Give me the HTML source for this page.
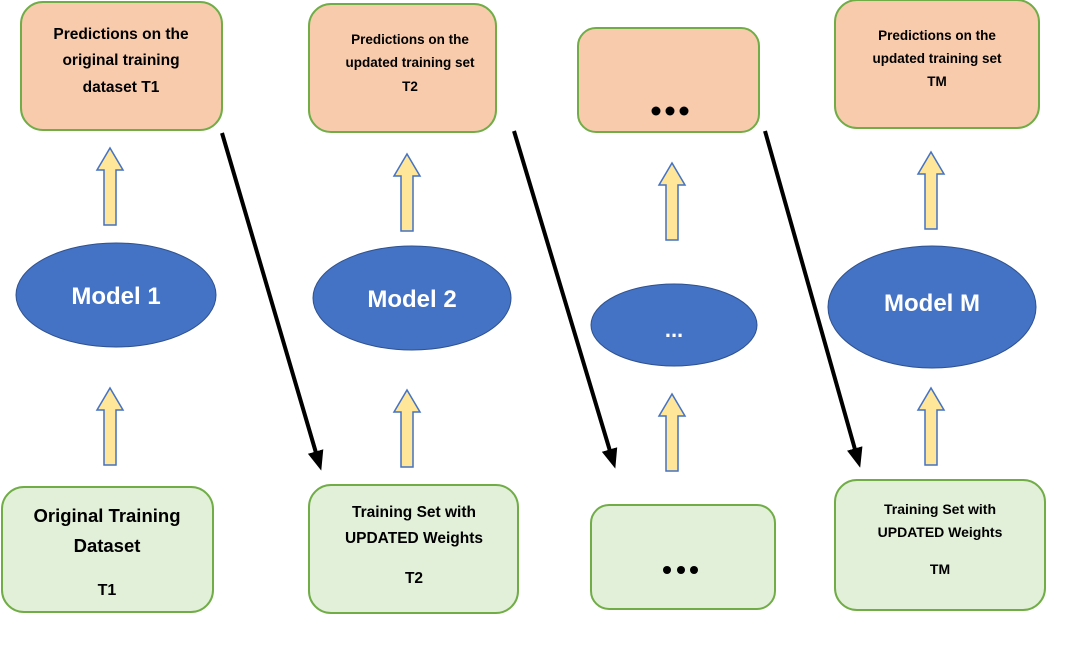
<!DOCTYPE html>
<html><head><style>
body{margin:0;background:#fff;}
</style></head><body>
<svg width="1069" height="662" xmlns="http://www.w3.org/2000/svg" font-family="Liberation Sans, sans-serif" font-weight="bold">
<defs>
<marker id="ah" markerWidth="5" markerHeight="4" refX="3" refY="2" orient="auto" markerUnits="strokeWidth">
<path d="M0,0 L5,2 L0,4 z" fill="#000"/></marker>
<g id="ua"><path d="M-6,77 L-6,22 L-13,22 L0,0 L13,22 L6,22 L6,77 Z" fill="#ffe699" stroke="#4472c4" stroke-width="1.5"/></g>
</defs>
<g stroke="#70ad47" stroke-width="2">
<rect x="21" y="2" width="201" height="128" rx="22" fill="#f8cbad"/>
<rect x="309" y="4" width="187" height="128" rx="22" fill="#f8cbad"/>
<rect x="578" y="28" width="181" height="104" rx="18" fill="#f8cbad"/>
<rect x="835" y="0" width="204" height="128" rx="22" fill="#f8cbad"/>
<rect x="2" y="487" width="211" height="125" rx="22" fill="#e2efd9"/>
<rect x="309" y="485" width="209" height="128" rx="22" fill="#e2efd9"/>
<rect x="591" y="505" width="184" height="104" rx="18" fill="#e2efd9"/>
<rect x="835" y="480" width="210" height="130" rx="22" fill="#e2efd9"/>
</g>
<g fill="#4472c4" stroke="#2f528f" stroke-width="1">
<ellipse cx="116" cy="295" rx="100" ry="52"/>
<ellipse cx="412" cy="298" rx="99" ry="52"/>
<ellipse cx="674" cy="325" rx="83" ry="41"/>
<ellipse cx="932" cy="307" rx="104" ry="61"/>
</g>
<use href="#ua" x="110" y="148"/><use href="#ua" x="110" y="388"/>
<use href="#ua" x="407" y="154"/><use href="#ua" x="407" y="390"/>
<use href="#ua" x="672" y="163"/><use href="#ua" x="672" y="394"/>
<use href="#ua" x="931" y="152"/><use href="#ua" x="931" y="388"/>
<g stroke="#000" stroke-width="4">
<line x1="222" y1="133" x2="319" y2="463" marker-end="url(#ah)"/>
<line x1="514" y1="131" x2="613" y2="461" marker-end="url(#ah)"/>
<line x1="765" y1="131" x2="858" y2="460" marker-end="url(#ah)"/>
</g>
<g text-anchor="middle" fill="#000" font-size="15.5">
<text x="121" y="39">Predictions on the</text>
<text x="121" y="65">original training</text>
<text x="121" y="92">dataset T1</text>
<text x="410" y="44" font-size="13.5">Predictions on the</text>
<text x="410" y="67" font-size="13.5">updated training set</text>
<text x="410" y="91" font-size="13.5">T2</text>
<text x="937" y="40" font-size="13.5">Predictions on the</text>
<text x="937" y="63" font-size="13.5">updated training set</text>
<text x="937" y="86" font-size="13.5">TM</text>
<text x="107" y="522" font-size="18.5">Original Training</text>
<text x="107" y="552" font-size="18.5">Dataset</text>
<text x="107" y="595" font-size="16">T1</text>
<text x="414" y="517" font-size="15.5">Training Set with</text>
<text x="414" y="543" font-size="15.5">UPDATED Weights</text>
<text x="414" y="583" font-size="15.5">T2</text>
<text x="940" y="514" font-size="14">Training Set with</text>
<text x="940" y="537" font-size="14">UPDATED Weights</text>
<text x="940" y="574" font-size="14">TM</text>
</g>
<g fill="#000"><circle cx="656" cy="111" r="4.5"/><circle cx="670" cy="111" r="4.5"/><circle cx="684" cy="111" r="4.5"/>
<circle cx="667" cy="570" r="4"/><circle cx="681" cy="570" r="4"/><circle cx="694" cy="570" r="4"/></g>
<g text-anchor="middle" fill="#fff" font-size="24">
<text x="116" y="304">Model 1</text>
<text x="412" y="307">Model 2</text>
<text x="932" y="311">Model M</text>
<text x="674" y="337" font-size="22">...</text>
</g>
</svg>
</body></html>
